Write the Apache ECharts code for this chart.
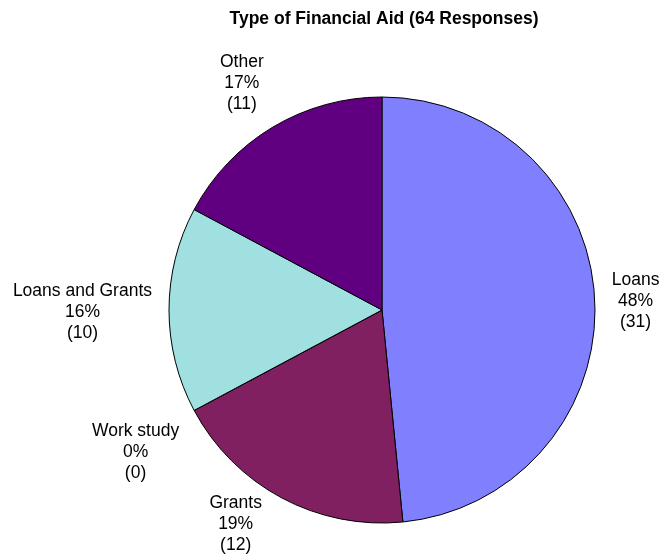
<!DOCTYPE html>
<html>
<head>
<meta charset="utf-8">
<script src="https://cdn.jsdelivr.net/npm/echarts@6/dist/echarts.min.js"></script>
<style>html,body{margin:0;padding:0;background:#fff;}#c{width:661px;height:558px;}</style>
</head>
<body>
<div id="c"></div>
<script>
const titleText = 'Type of Financial Aid (64 Responses)';
const categories = ['Loans', 'Grants', 'Work study', 'Loans and Grants', 'Other'];
const values = [31, 12, 0, 10, 11];
const colors = ['#8080FF', '#802060', '#FFFFC0', '#A0E0E0', '#600080'];

const W = 661, H = 558;
const CX = 382, CY = 310, R = 213, GAP = 17;
const total = values.reduce((a, b) => a + b, 0);
const midAngles = [];
(function () {
  let acc = 0;
  values.forEach(v => {
    midAngles.push((acc + v / 2) / total * Math.PI * 2);
    acc += v;
  });
})();

const chart = echarts.init(document.getElementById('c'), null, { renderer: 'canvas' });
chart.setOption({
  animation: false,
  backgroundColor: '#ffffff',
  title: {
    text: titleText,
    left: 379, top: 5, textAlign: 'center',
    textStyle: { fontFamily: 'Liberation Sans, Arial, sans-serif', fontSize: 17.5, fontWeight: 'bold', color: '#000' }
  },
  series: [{
    type: 'pie',
    center: [CX, CY],
    radius: [0, R],
    startAngle: 90,
    clockwise: true,
    percentPrecision: 0,
    avoidLabelOverlap: false,
    stillShowZeroSum: true,
    data: categories.map((n, i) => ({ name: n, value: values[i], itemStyle: { color: colors[i] } })),
    itemStyle: { borderColor: '#000', borderWidth: 1 },
    label: {
      show: true,
      position: 'outside',
      formatter: '{b}\n{d}%\n({c})',
      fontFamily: 'Liberation Sans, Arial, sans-serif',
      fontSize: 17.5,
      lineHeight: 21,
      color: '#000',
      align: 'center'
    },
    labelLine: { show: false },
    emphasis: { disabled: true },
    labelLayout: function (p) {
      const a = midAngles[p.dataIndex];
      const sx = Math.sin(a), sy = -Math.cos(a);
      const w = p.labelRect.width, h = p.labelRect.height;
      const px = CX + sx * (R + GAP), py = CY + sy * (R + GAP);
      const ox = Math.abs(sx) < 0.2 ? 0 : Math.sign(sx) * w / 2;
      const oy = Math.abs(sy) < 0.2 ? 0 : Math.sign(sy) * h / 2;
      let x = px + ox, y = py + oy + 2;
      let shift = 0;
      if (y + h / 2 > H - 2) { shift = (y + h / 2) - (H - 2); y -= shift; }
      if (y - h / 2 < 0) { shift = h / 2 - y; y += shift; }
      if (shift > 0 && Math.abs(sy) > 1e-6) {
        x += Math.sign(sx) * shift * Math.abs(sx / sy);
      }
      return { x: x, y: y, align: 'center', verticalAlign: 'middle' };
    }
  }]
});
</script>
</body>
</html>
